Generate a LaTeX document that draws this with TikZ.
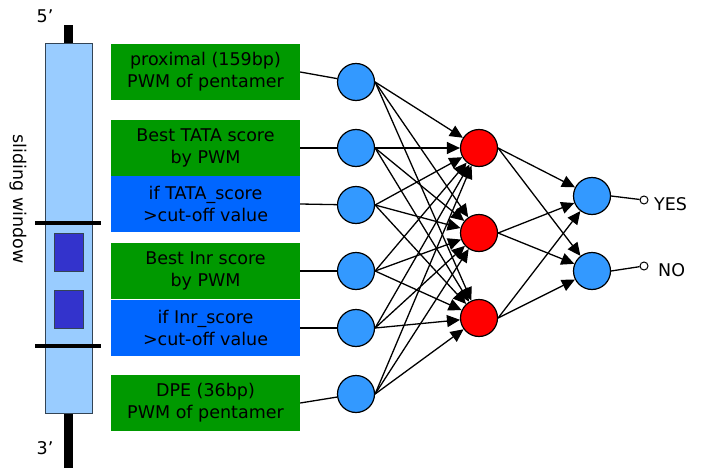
\documentclass[tikz,border=0pt]{standalone}
\usepackage{fontspec}
\setmainfont{DejaVu Sans}
\usetikzlibrary{arrows.meta}
\definecolor{boxgreen}{HTML}{009900}
\definecolor{boxblue}{HTML}{0066FF}
\definecolor{neuron}{HTML}{3399FF}
\definecolor{barblue}{HTML}{99CCFF}
\definecolor{sqblue}{HTML}{3333CC}
\definecolor{edgegray}{HTML}{334455}
\begin{document}
\begin{tikzpicture}[x=1pt,y=-1pt,
  txt/.style={font=\fontsize{17.5}{22}\selectfont},
  feat/.style={txt, rectangle, minimum width=189pt, minimum height=56pt, inner sep=0pt, align=center, text=black},
  gbox/.style={feat, fill=boxgreen},
  bbox/.style={feat, fill=boxblue},
  neu/.style={circle, draw=black, line width=1.2pt, fill=neuron, minimum size=37pt, inner sep=0pt},
  hid/.style={neu, fill=red},
  conn/.style={line width=1.3pt},
  arr/.style={conn, -{Triangle[length=13pt,width=12pt]}},
  term/.style={circle, draw=black, line width=1pt, fill=white, minimum size=8pt, inner sep=0pt},
  ]
\useasboundingbox (0,0) rectangle (706,468);

% sliding window bar
\fill[black] (64,25) rectangle (73,43);
\fill[black] (64,413) rectangle (73,468);
\draw[fill=barblue, draw=edgegray, line width=0.8pt] (45,43) rectangle (92,413);
\draw[fill=sqblue, draw=edgegray, line width=0.8pt] (54,233) rectangle (83,271);
\draw[fill=sqblue, draw=edgegray, line width=0.8pt] (54,290) rectangle (83,328);
\fill[black] (35,221) rectangle (101,225);
\fill[black] (35,344) rectangle (101,348);
\node[txt, inner sep=0pt] (five) at (45,16) {5’};
\node[txt, inner sep=0pt] (three) at (45,448) {3’};
\node[txt, rotate=-90, inner sep=0pt] (sw) at (18,199) {sliding window};

% feature boxes
\node[gbox] (b1) at (205.5,72) {proximal (159bp)\\PWM of pentamer};
\node[gbox] (b2) at (205.5,148) {Best TATA score\\by PWM};
\node[bbox] (b3) at (205.5,204) {if TATA\_score\\>cut-off value};
\node[gbox] (b4) at (205.5,271) {Best Inr score\\by PWM};
\node[bbox] (b5) at (205.5,328) {if Inr\_score\\>cut-off value};
\node[gbox] (b6) at (205.5,403) {DPE (36bp)\\PWM of pentamer};

% input neurons
\node[neu] (i1) at (356,82) {};
\node[neu] (i2) at (356,148) {};
\node[neu] (i3) at (356,205) {};
\node[neu] (i4) at (356,271) {};
\node[neu] (i5) at (356,328) {};
\node[neu] (i6) at (356,394) {};

% hidden neurons
\node[hid] (h1) at (479,148) {};
\node[hid] (h2) at (479,233) {};
\node[hid] (h3) at (479,318) {};

% output neurons
\node[neu] (o1) at (592,196) {};
\node[neu] (o2) at (592,271) {};

% terminals
\node[term] (t1) at (644,200) {};
\node[term] (t2) at (644,266) {};
\node[txt, anchor=west, inner sep=0pt] (yes) at (654,204) {YES};
\node[txt, anchor=west, inner sep=0pt] (no) at (658,270) {NO};

% box to input
\foreach \k in {1,...,6}{
  \draw[conn] (b\k.east) -- (i\k);
}
% input to hidden
\foreach \k in {1,...,6}{
  \foreach \j in {1,2,3}{
    \draw[arr] (i\k.east) -- (h\j);
  }
}
% hidden to output
\foreach \j in {1,2,3}{
  \foreach \m in {1,2}{
    \draw[arr] (h\j.east) -- (o\m);
  }
}
% output to terminal
\draw[conn] (o1.east) -- (t1);
\draw[conn] (o2.east) -- (t2);
\end{tikzpicture}
\end{document}
